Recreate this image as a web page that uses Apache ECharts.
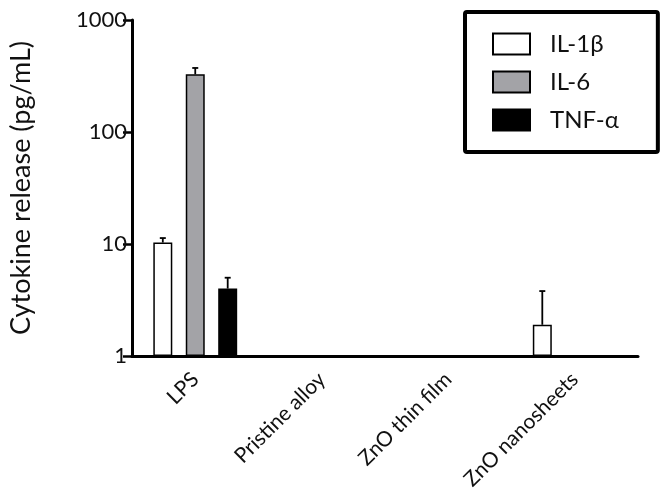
<!DOCTYPE html>
<html>
<head>
<meta charset="utf-8">
<script src="https://cdn.jsdelivr.net/npm/echarts@6/dist/echarts.min.js"></script>
<style>html,body{margin:0;padding:0;background:#fff}#c{width:668px;height:501px}</style>
</head>
<body>
<div id="c"></div>
<script>
var categories = ['LPS', 'Pristine alloy', 'ZnO thin film', 'ZnO nanosheets'];
var seriesNames = ['IL-1\u03b2', 'IL-6', 'TNF-\u03b1'];
var il1b = [10.3, null, null, 1.9];
var il1bErr = [1.0, null, null, 1.9];
var il6 = [327, null, null, null];
var il6Err = [46, null, null, null];
var tnf = [4.0, null, null, null];
var tnfErr = [1.0, null, null, null];
var yTicks = [1, 10, 100, 1000];

var FONT = 'Lato';
var barW = 0.15, barGapFrac = 0.71;
var step = barW * (1 + barGapFrac);
var offsets = [-step, 0, step];
var colors = ['#ffffff', '#a3a3a7', '#000000'];
var vals = [il1b, il6, tnf];
var errs = [il1bErr, il6Err, tnfErr];

var series = [];
vals.forEach(function (v, i) {
  series.push({
    name: seriesNames[i], type: 'bar', data: v,
    barWidth: (barW * 100) + '%', barGap: (barGapFrac * 100) + '%',
    itemStyle: { color: colors[i], borderColor: '#000', borderWidth: 1.5 },
    emphasis: { disabled: true }, z: 2
  });
});
vals.forEach(function (v, i) {
  var d = [];
  v.forEach(function (val, k) {
    if (val != null && errs[i][k] != null) d.push([k, val, val + errs[i][k]]);
  });
  series.push({
    type: 'custom', data: d, z: 3, silent: true,
    encode: { x: 0, y: [1, 2] },
    renderItem: function (params, api) {
      var k = api.value(0);
      var base = api.coord([k, api.value(1)]);
      var top = api.coord([k, api.value(2)]);
      var band = api.size([1, 0])[0];
      var x = base[0] + offsets[i] * band;
      var cap = 3;
      return {
        type: 'group', children: [
          { type: 'line', shape: { x1: x, y1: base[1], x2: x, y2: top[1] }, style: { stroke: '#000', lineWidth: 1.8 } },
          { type: 'line', shape: { x1: x - cap, y1: top[1], x2: x + cap, y2: top[1] }, style: { stroke: '#000', lineWidth: 1.8 } }
        ]
      };
    }
  });
});

var chart = echarts.init(document.getElementById('c'), null, { renderer: 'canvas' });
chart.setOption({
  animation: false,
  backgroundColor: '#fff',
  textStyle: { fontFamily: FONT },
  grid: { left: 132, right: 30, top: 20, bottom: 145, containLabel: false },
  legend: {
    data: seriesNames, orient: 'vertical', left: 465, top: 12,
    itemWidth: 37, itemHeight: 21, itemGap: 14, icon: 'rect',
    padding: [20, 39, 20, 27],
    borderColor: '#000', borderWidth: 4, borderRadius: 2,
    textStyle: { fontFamily: FONT, fontSize: 24, color: '#111', padding: [0, 0, 0, 15] },
    selectedMode: false
  },
  xAxis: {
    type: 'category', data: categories,
    axisLine: { lineStyle: { color: '#000', width: 3 } },
    axisTick: { alignWithLabel: true, length: 8, lineStyle: { color: '#000', width: 2.5 } },
    axisLabel: { rotate: 45, fontSize: 21, color: '#111', fontFamily: FONT, margin: 20 }
  },
  yAxis: {
    type: 'log', logBase: 10, min: 1, max: 1000,
    name: 'Cytokine release (pg/mL)', nameLocation: 'middle', nameGap: 97,
    nameTextStyle: { fontSize: 27, color: '#111', fontFamily: FONT },
    axisLine: { show: true, lineStyle: { color: '#000', width: 3 } },
    axisTick: { show: true, length: 9, lineStyle: { color: '#000', width: 2.5 } },
    minorTick: { show: false },
    splitLine: { show: false },
    axisLabel: {
      fontSize: 22, color: '#111', fontFamily: FONT, margin: 5,
      formatter: function (v) { return yTicks.indexOf(Math.round(v)) >= 0 ? String(Math.round(v)) : ''; }
    }
  },
  series: series
});
</script>
</body>
</html>
